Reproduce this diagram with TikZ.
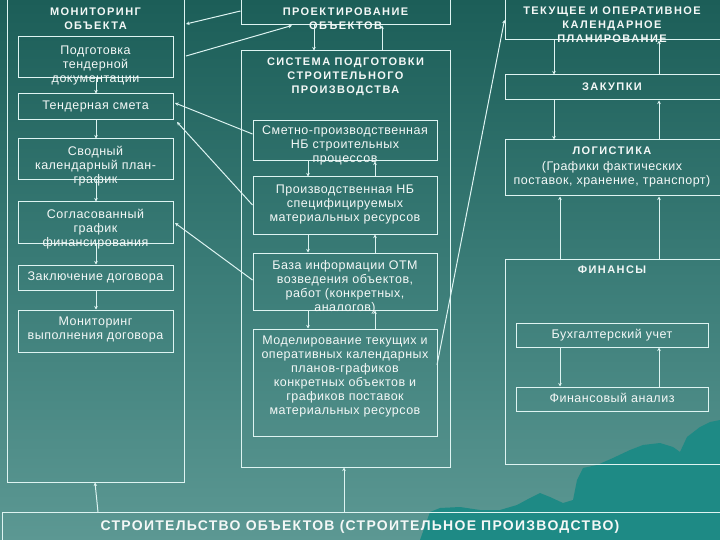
\documentclass[tikz,border=0pt]{standalone}
\usepackage{fontspec}
\setmainfont{Liberation Sans}
\newfontfamily\tfont[LetterSpace=4]{Liberation Sans}
\newfontfamily\bfont[LetterSpace=13]{Liberation Sans}
\newfontfamily\Bfont[LetterSpace=9]{Liberation Sans}
\usetikzlibrary{arrows.meta}
\definecolor{bgtop}{RGB}{28,94,88}
\definecolor{bgmid}{RGB}{58,124,119}
\definecolor{bgbot}{RGB}{92,152,147}
\definecolor{mount}{RGB}{30,138,133}
\definecolor{linec}{RGB}{222,244,242}
\definecolor{textc}{RGB}{244,248,247}
\tikzset{
  box/.style={draw=linec, line width=1pt, inner sep=0pt, rectangle},
  txt/.style={text=textc, font=\tfont\fontsize{12.5}{14}\selectfont, align=center, inner sep=0pt, anchor=north},
  ttl/.style={text=textc, font=\bfont\bfseries\fontsize{11}{14}\selectfont, align=center, inner sep=0pt, anchor=north},
  big/.style={text=textc, font=\Bfont\bfseries\fontsize{14}{16}\selectfont, align=center, inner sep=0pt, anchor=north},
  arr/.style={draw=linec, line width=1pt, -{Stealth[length=3.5pt,width=3.5pt]}}
}
\begin{document}
\begin{tikzpicture}[x=1pt,y=-1pt]
\useasboundingbox (0,0) rectangle (720,540);
\clip (0,0) rectangle (720,540);
% background
\shade[top color=bgtop, bottom color=bgbot, middle color=bgmid] (0,0) rectangle (720,540);
\fill[mount] (420,540) -- (430,512) -- (440,508) -- (460,507) -- (480,510) -- (500,510) -- (517,505) -- (530,498) -- (540,493) -- (550,497) -- (563,503) -- (573,500) -- (577,480) -- (583,468) -- (597,465) -- (613,458) -- (630,450) -- (643,445) -- (660,443) -- (673,447) -- (680,452) -- (687,437) -- (700,427) -- (710,422) -- (720,420) -- (720,540) -- cycle;

% left column
\node[box, minimum width=177pt, minimum height=492pt] (mon) at (95.5,236) {};
\node[box, minimum width=155pt, minimum height=41pt] (pod) at (95.5,57.5) {};
\node[box, minimum width=155pt, minimum height=26pt] (smeta) at (95.5,107) {};
\node[box, minimum width=155pt, minimum height=41pt] (svod) at (95.5,159.5) {};
\node[box, minimum width=155pt, minimum height=41pt] (sogl) at (95.5,222.5) {};
\node[box, minimum width=155pt, minimum height=25pt] (zakl) at (95.5,277.5) {};
\node[box, minimum width=155pt, minimum height=42pt] (monv) at (95.5,331) {};

% middle column
\node[box, minimum width=209pt, minimum height=35pt] (proj) at (345.5,7.5) {};
\node[box, minimum width=209pt, minimum height=416pt] (sys) at (345.5,259) {};
\node[box, minimum width=184pt, minimum height=40pt] (nb1) at (345,141) {};
\node[box, minimum width=184pt, minimum height=57pt] (nb2) at (345,205.5) {};
\node[box, minimum width=184pt, minimum height=57pt] (base) at (345,281.5) {};
\node[box, minimum width=184pt, minimum height=107pt] (model) at (345,382.5) {};

% right column
\node[box, minimum width=225pt, minimum height=50pt] (tek) at (617.5,15) {};
\node[box, minimum width=225pt, minimum height=25pt] (zak) at (617.5,87.5) {};
\node[box, minimum width=225pt, minimum height=56pt] (log) at (617.5,168) {};
\node[box, minimum width=225pt, minimum height=205pt] (fin) at (617.5,361.5) {};
\node[box, minimum width=192pt, minimum height=24pt] (buh) at (612,335) {};
\node[box, minimum width=192pt, minimum height=24pt] (fan) at (612,399) {};

% bottom
\node[box, minimum width=728pt, minimum height=38pt] (stroi) at (366,531) {};

% texts
\node[ttl] (tmon) at (95.5,8) {МОНИТОРИНГ\\ОБЪЕКТА};
\node[txt] (tpod) at (95.5,46) {Подготовка\\тендерной\\документации};
\node[txt] (tsmeta) at (95.5,101) {Тендерная смета};
\node[txt] (tsvod) at (95.5,146) {Сводный\\календарный план-\\график};
\node[txt] (tsogl) at (95.5,209) {Согласованный\\график\\финансирования};
\node[txt] (tzakl) at (95.5,272) {Заключение договора};
\node[txt] (tmonv) at (95.5,317) {Мониторинг\\выполнения договора};

\node[ttl] (tproj) at (345.5,8) {ПРОЕКТИРОВАНИЕ\\ОБЪЕКТОВ};
\node[ttl] (tsys) at (345.5,58) {СИСТЕМА ПОДГОТОВКИ\\СТРОИТЕЛЬНОГО\\ПРОИЗВОДСТВА};
\node[txt] (tnb1) at (345,126) {Сметно-производственная\\НБ строительных\\процессов};
\node[txt] (tnb2) at (345,185) {Производственная НБ\\специфицируемых\\материальных ресурсов};
\node[txt] (tbase) at (345,260) {База информации ОТМ\\возведения объектов,\\работ (конкретных,\\аналогов)};
\node[txt] (tmodel) at (345,336) {Моделирование текущих и\\оперативных календарных\\планов-графиков\\конкретных объектов и\\графиков поставок\\материальных ресурсов};

\node[ttl] (ttek) at (612,7) {ТЕКУЩЕЕ И ОПЕРАТИВНОЕ\\КАЛЕНДАРНОЕ\\ПЛАНИРОВАНИЕ};
\node[ttl] (tzak) at (612,83) {ЗАКУПКИ};
\node[ttl] (tlog) at (612,147) {ЛОГИСТИКА};
\node[txt] (tlog2) at (612,161) {(Графики фактических\\поставок, хранение, транспорт)};
\node[ttl] (tfin) at (612,266) {ФИНАНСЫ};
\node[txt] (tbuh) at (612,329) {Бухгалтерский учет};
\node[txt] (tfan) at (612,393) {Финансовый анализ};

\node[big] (tstroi) at (360,520) {СТРОИТЕЛЬСТВО ОБЪЕКТОВ (СТРОИТЕЛЬНОЕ ПРОИЗВОДСТВО)};

% helper x coordinates
\coordinate (xl) at (96,0);
\coordinate (xmd) at (308,0);
\coordinate (xmu) at (375,0);
\coordinate (xpd) at (314,0);
\coordinate (xpu) at (382,0);
\coordinate (xrd) at (554,0);
\coordinate (xru) at (659,0);
\coordinate (xfd) at (560,0);

% left column arrows
\draw[arr] (pod.south -| xl) -- (smeta.north -| xl);
\draw[arr] (smeta.south -| xl) -- (svod.north -| xl);
\draw[arr] (svod.south -| xl) -- (sogl.north -| xl);
\draw[arr] (sogl.south -| xl) -- (zakl.north -| xl);
\draw[arr] (zakl.south -| xl) -- (monv.north -| xl);

% middle column arrows
\draw[arr] (proj.south -| xpd) -- (sys.north -| xpd);
\draw[arr] (sys.north -| xpu) -- (proj.south -| xpu);
\draw[arr] (nb1.south -| xmd) -- (nb2.north -| xmd);
\draw[arr] (nb2.north -| xmu) -- (nb1.south -| xmu);
\draw[arr] (nb2.south -| xmd) -- (base.north -| xmd);
\draw[arr] (base.north -| xmu) -- (nb2.south -| xmu);
\draw[arr] (base.south -| xmd) -- (model.north -| xmd);
\draw[arr] (model.north -| xmu) -- (base.south -| xmu);

% right column arrows
\draw[arr] (tek.south -| xrd) -- (zak.north -| xrd);
\draw[arr] (zak.north -| xru) -- (tek.south -| xru);
\draw[arr] (zak.south -| xrd) -- (log.north -| xrd);
\draw[arr] (log.north -| xru) -- (zak.south -| xru);
\draw[arr] (fin.north -| xfd) -- (log.south -| xfd);
\draw[arr] (fin.north -| xru) -- (log.south -| xru);
\draw[arr] (buh.south -| xfd) -- (fan.north -| xfd);
\draw[arr] (fan.north -| xru) -- (buh.south -| xru);

% bottom arrows
\draw[arr] (98,512) -- (mon.south -| 95,0);
\draw[arr] (stroi.north -| 344,0) -- (sys.south -| 344,0);

% slanted connectors
\draw[arr] (proj.west |- 0,11) -- (186,24);
\draw[arr] (186,56) -- (proj.south -| 292,0);
\draw[arr] (nb1.west |- 0,134) -- (175,103);
\draw[arr] (nb2.west |- 0,205) -- (177,122);
\draw[arr] (base.west |- 0,280) -- (175,223);
\draw[arr] (437,365) -- (tek.west |- 0,20);
\end{tikzpicture}
\end{document}
